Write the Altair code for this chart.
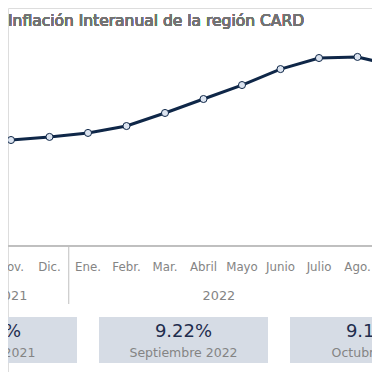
import altair as alt
import pandas as pd

# ---- data ----
months = ["Oct.", "Nov.", "Dic.", "Ene.", "Febr.", "Mar.", "Abril", "Mayo",
          "Junio", "Julio", "Ago.", "Sep.", "Oct."]
inflation = [5.03, 5.14, 5.31, 5.53, 5.91, 6.63, 7.40, 8.17, 9.05, 9.66, 9.72, 9.22, 9.13]
years = ["2021", "2022"]
year_pos = [1, 6.4]          # category position of each year label
year_breaks = [2.5]          # separators between years
box_values = ["5.03%", "9.22%", "9.13%"]
box_labels = ["Octubre 2021", "Septiembre 2022", "Octubre 2022"]

FONT = "DejaVu Sans"
NAVY = "#0f2748"
GRAY = "#848484"

df = pd.DataFrame({"i": list(range(len(months))), "mes": months, "v": inflation})
dy = pd.DataFrame({"i": year_pos, "anio": years})
db = pd.DataFrame({"b": list(range(len(box_values))), "val": box_values, "lab": box_labels})
dsep = pd.DataFrame({"i": year_breaks})

W, H = 364, 364
xs = alt.Scale(domain=[0.922, 0.922 + W / 38.5], range=[0, W], nice=False, zero=False)
ys = alt.Scale(domain=[12.417 - H / 18.14, 12.417], range=[H, 0], nice=False, zero=False)
bs = alt.Scale(domain=[0, 2], range=[-15.5, 366.5], nice=False, zero=False)

X = alt.X("i:Q", scale=xs, axis=None)
Y = alt.Y("v:Q", scale=ys, axis=None)

line = alt.Chart(df).mark_line(color=NAVY, strokeWidth=3, clip=True).encode(x=X, y=Y)
pts = alt.Chart(df).mark_point(filled=True, fill="#dce4f0", stroke=NAVY, strokeWidth=1,
                               size=50, opacity=1, clip=True).encode(x=X, y=Y)

title = alt.Chart(df).mark_text(text="Inflación Interanual de la región CARD", font=FONT,
                                fontSize=15.5, color="#737373", align="left",
                                baseline="alphabetic").encode(
    x=alt.value(0), y=alt.value(18))

axis_line = alt.Chart(df).mark_rule(color="#bfbfbf", strokeWidth=1).encode(
    x=alt.value(0), x2=alt.value(W), y=alt.value(238))
sep = alt.Chart(dsep).mark_rule(color="#bfbfbf", strokeWidth=1).encode(
    x=X, y=alt.value(238), y2=alt.value(296))

mlab = alt.Chart(df).mark_text(font=FONT, fontSize=11.8, color=GRAY,
                               baseline="middle").encode(
    x=X, y=alt.value(258.5), text="mes:N")
ylab = alt.Chart(dy).mark_text(font=FONT, fontSize=12.8, color=GRAY,
                               baseline="middle").encode(
    x=X, y=alt.value(288), text="anio:N")

boxes = alt.Chart(db).transform_calculate(
    b0="datum.b - 0.4425", b1="datum.b + 0.4425").mark_rect(color="#d6dce5").encode(
    x=alt.X("b0:Q", scale=bs, axis=None), x2="b1:Q",
    y=alt.value(309), y2=alt.value(355))
bval = alt.Chart(db).mark_text(font=FONT, fontSize=18, color="#1f2d4d",
                               baseline="middle").encode(
    x=alt.X("b:Q", scale=bs, axis=None), y=alt.value(323.5), text="val:N")
blab = alt.Chart(db).mark_text(font=FONT, fontSize=12.5, color=GRAY,
                               baseline="middle").encode(
    x=alt.X("b:Q", scale=bs, axis=None), y=alt.value(344.5), text="lab:N")

chart = alt.layer(title, axis_line, sep, mlab, ylab, boxes, bval, blab, line, pts).resolve_scale(
    x="independent", y="independent"
).properties(
    width=W, height=H, padding=0, autosize=alt.AutoSizeParams(type="none")
).configure_view(stroke=None).configure(background="white")

chart.save("out.html", embed_options={"renderer": "svg", "actions": False})
